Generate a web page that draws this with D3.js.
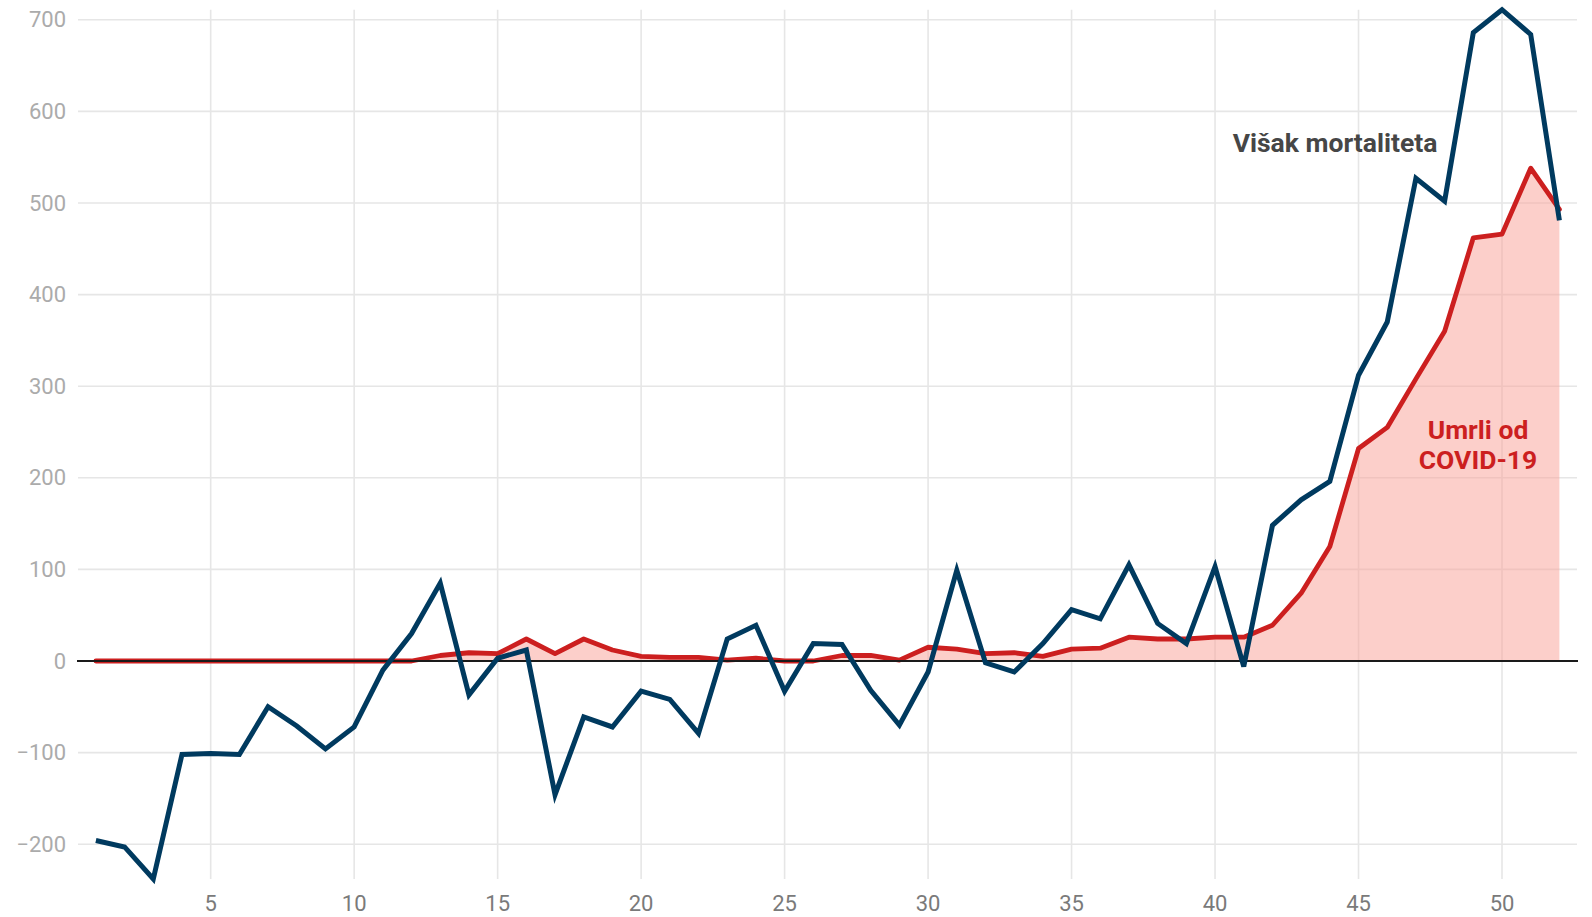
<!DOCTYPE html>
<html>
<head>
<meta charset="utf-8">
<script src="https://cdn.jsdelivr.net/npm/d3@7"></script>
<style>
  html, body { margin: 0; padding: 0; background: #fff; }
  text { font-family: Roboto, "Noto Sans", sans-serif; }
</style>
</head>
<body>
<div id="chart"></div>
<script>
// weeks 1..52
const weeks = d3.range(1, 53);
// excess mortality (Višak mortaliteta)
const excess = [-196, -203, -238, -102, -101, -102, -50, -71, -96, -72,
  -10, 30, 85, -37, 3, 12, -146, -61, -72, -33,
  -42, -79, 24, 39, -33, 19, 18, -32, -70, -12,
  99, -2, -12, 19, 56, 46, 105, 41, 19, 103,
  -6, 148, 176, 196, 312, 370, 527, 502, 686, 711,
  684, 481];
// COVID-19 deaths (Umrli od COVID-19)
const covid = [0, 0, 0, 0, 0, 0, 0, 0, 0, 0,
  0, 0, 6, 9, 8, 24, 8, 24, 12, 5,
  4, 4, 1, 3, 0, 0, 6, 6, 1, 15,
  13, 8, 9, 5, 13, 14, 26, 24, 24, 26,
  26, 39, 74, 125, 232, 255, 308, 360, 462, 466,
  538, 493];
const xTicks = [5, 10, 15, 20, 25, 30, 35, 40, 45, 50];
const yTicks = [-200, -100, 0, 100, 200, 300, 400, 500, 600, 700];

const W = 1592, H = 917;
const plotLeft = 78, plotRight = 1577, plotTop = 9.7, plotBottom = 879;

const svg = d3.select("#chart")
  .append("svg")
  .attr("width", W)
  .attr("height", H);

const x = d3.scaleLinear().domain([1, 52]).range([95.9, 1559.4]);
const y = d3.scaleLinear().domain([-238, 711]).range([plotBottom, plotTop]);

// grid
svg.append("g")
  .selectAll("line")
  .data(yTicks)
  .enter().append("line")
  .attr("x1", plotLeft).attr("x2", plotRight)
  .attr("y1", d => y(d)).attr("y2", d => y(d))
  .attr("stroke", "#e6e6e6").attr("stroke-width", 1.6);

svg.append("g")
  .selectAll("line")
  .data(xTicks)
  .enter().append("line")
  .attr("x1", d => x(d)).attr("x2", d => x(d))
  .attr("y1", plotTop).attr("y2", plotBottom)
  .attr("stroke", "#e6e6e6").attr("stroke-width", 1.6);

// axis labels
svg.append("g")
  .selectAll("text")
  .data(yTicks)
  .enter().append("text")
  .attr("x", 66)
  .attr("y", d => y(d))
  .attr("dy", "0.35em")
  .attr("text-anchor", "end")
  .attr("font-size", 22)
  .attr("fill", "#ababab")
  .text(d => d < 0 ? "\u2212" + Math.abs(d) : d);

svg.append("g")
  .selectAll("text")
  .data(xTicks)
  .enter().append("text")
  .attr("x", d => x(d))
  .attr("y", 911)
  .attr("text-anchor", "middle")
  .attr("font-size", 22)
  .attr("fill", "#7a7a7a")
  .text(d => d);

// covid area
const area = d3.area()
  .x((d, i) => x(weeks[i]))
  .y0(y(0))
  .y1(d => y(d));

svg.append("path")
  .datum(covid)
  .attr("d", area)
  .attr("fill", "#fa9f96")
  .attr("fill-opacity", 0.5);

const line = d3.line()
  .x((d, i) => x(weeks[i]))
  .y(d => y(d));

svg.append("path")
  .datum(covid)
  .attr("d", line)
  .attr("fill", "none")
  .attr("stroke", "#cc1f1f")
  .attr("stroke-width", 4.8)
  .attr("stroke-linejoin", "round")
  .attr("stroke-linecap", "round");

// zero line
svg.append("line")
  .attr("x1", 77).attr("x2", 1578)
  .attr("y1", y(0)).attr("y2", y(0))
  .attr("stroke", "#1a1a1a").attr("stroke-width", 1.8);

svg.append("path")
  .datum(excess)
  .attr("d", line)
  .attr("fill", "none")
  .attr("stroke", "#003a5f")
  .attr("stroke-width", 5)
  .attr("stroke-linejoin", "miter")
  .attr("stroke-linecap", "butt");

// labels
svg.append("text")
  .attr("x", 1335)
  .attr("y", 152)
  .attr("text-anchor", "middle")
  .attr("font-size", 26.5)
  .attr("font-weight", "bold")
  .attr("fill", "#464646")
  .text("Višak mortaliteta");

const covidLabel = svg.append("text")
  .attr("text-anchor", "middle")
  .attr("font-size", 26.5)
  .attr("font-weight", "bold")
  .attr("fill", "#cc1f1f");
covidLabel.append("tspan").attr("x", 1478).attr("y", 439).text("Umrli od");
covidLabel.append("tspan").attr("x", 1478).attr("y", 469).text("COVID-19");
</script>
</body>
</html>
